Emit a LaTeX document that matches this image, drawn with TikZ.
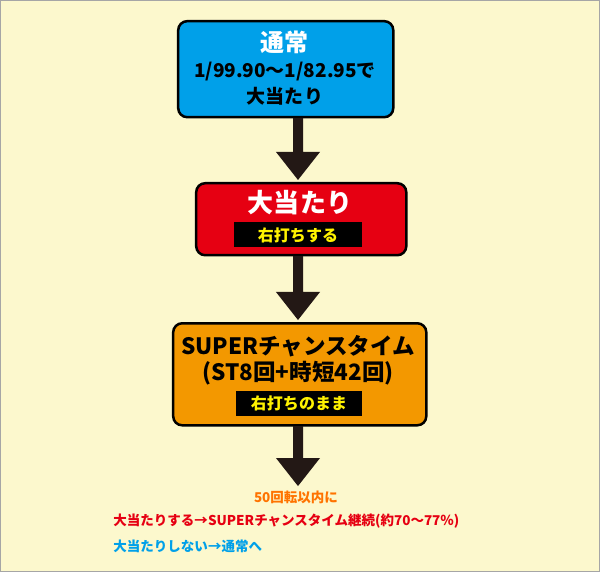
\documentclass[tikz,border=0pt]{standalone}
\usepackage{fontspec}
\setmainfont{Noto Sans CJK JP}[BoldFont={* Black}]
\begin{document}
\begin{tikzpicture}[x=1pt,y=-1pt,font=\bfseries,
 box/.style={draw=black,line width=2.5pt,rounded corners=9pt,anchor=north west,inner sep=0pt},
 tag/.style={fill=black,text=yellow,inner sep=2pt,font=\bfseries\fontsize{16}{16}\selectfont}]
\definecolor{bg}{HTML}{FCF8CD}\definecolor{arrowc}{HTML}{231815}
\definecolor{bl}{HTML}{00A0E9}\definecolor{rd}{HTML}{E60012}\definecolor{og}{HTML}{F39800}
\path[use as bounding box,fill=bg,draw=gray!70,line width=0.8pt] (0.5,0.5) rectangle (599.5,571.5);
% box 1
\node[box,fill=bl,minimum width=215pt,minimum height=96pt] (b1) at (177,20) {};
\node[text=white,font=\bfseries\fontsize{24}{24}\selectfont] (t1) at (285,42) {通常};
\node[font=\bfseries\fontsize{19}{19}\selectfont] (t1b) at (285,72) {1/99.90～1/82.95で};
\node[font=\bfseries\fontsize{19}{19}\selectfont] (t1c) at (285,96) {大当たり};
% box 2
\node[box,fill=rd,minimum width=210pt,minimum height=72pt] (b2) at (195,182) {};
\node[text=white,font=\bfseries\fontsize{26}{26}\selectfont] (t2) at (300,203) {大当たり};
\node[tag,minimum width=127pt,minimum height=25pt] (g2) at (298,235) {右打ちする};
% box 3
\node[box,fill=og,minimum width=253pt,minimum height=102pt] (b3) at (172,322) {};
\node[font=\bfseries\fontsize{22.5}{22.5}\selectfont] (t3) at (298,346) {SUPERチャンスタイム};
\node[font=\bfseries\fontsize{22.5}{22.5}\selectfont] (t3b) at (298,373) {(ST8回+時短42回)};
\node[tag,minimum width=126pt,minimum height=25pt] (g3) at (299,403) {右打ちのまま};
% arrows
\coordinate (a1s) at (298,118); \coordinate (a1e) at (298,180);
\coordinate (a2s) at (298,256); \coordinate (a2e) at (298,320);
\coordinate (a3s) at (298,426); \coordinate (a3e) at (298,486);
\foreach \s/\e in {a1s/a1e,a2s/a2e,a3s/a3e}{
 \fill[arrowc] ([xshift=-5pt]\s) -- ([xshift=-5pt,yshift=28pt]\e) -- ([xshift=-22pt,yshift=28pt]\e) -- (\e) -- ([xshift=22pt,yshift=28pt]\e) -- ([xshift=5pt,yshift=28pt]\e) -- ([xshift=5pt]\s) -- cycle;
}
\node[text=orange!90!red,font=\bfseries\fontsize{13.5}{13.5}\selectfont] (n1) at (296,497) {50回転以内に};
\node[anchor=west,text=rd,font=\bfseries\fontsize{13.5}{13.5}\selectfont] (n2) at (110,521) {大当たりする→SUPERチャンスタイム継続(約70～77％)};
\node[anchor=west,text=bl,font=\bfseries\fontsize{13.5}{13.5}\selectfont] (n3) at (110,546) {大当たりしない→通常へ};
\end{tikzpicture}
\end{document}
